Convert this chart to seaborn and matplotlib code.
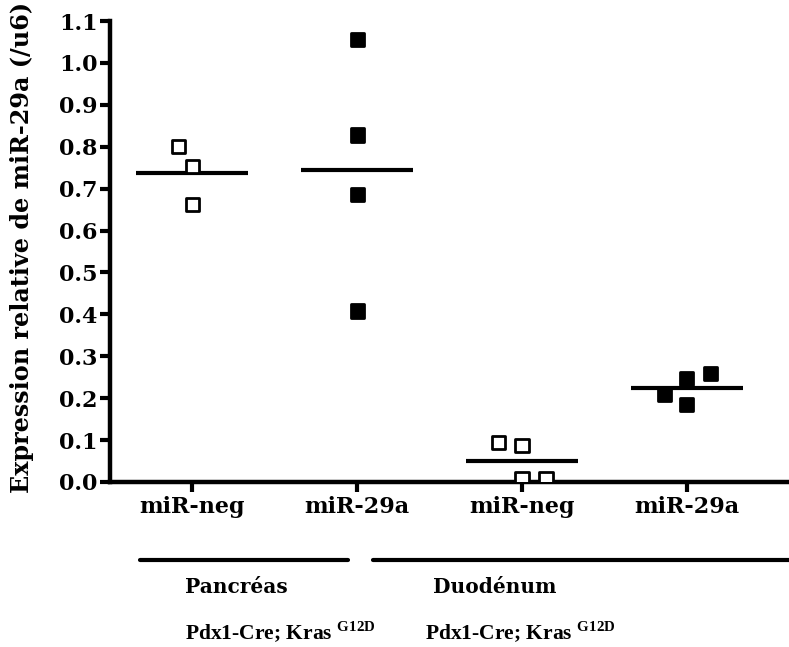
import matplotlib
matplotlib.use("Agg")
import matplotlib.pyplot as plt
from matplotlib.lines import Line2D
import seaborn as sns
import pandas as pd

# miR-29a expression relative to u6, per mouse
groups = ["panc_neg", "panc_29a", "duo_neg", "duo_29a"]
probe_labels = ["miR-neg", "miR-29a", "miR-neg", "miR-29a"]
panc_neg = [0.800, 0.752, 0.663]
panc_29a = [1.056, 0.828, 0.686, 0.408]
duo_neg = [0.095, 0.088, 0.008, 0.008]
duo_29a = [0.259, 0.247, 0.208, 0.184]
y_ticks = [0.0, 0.1, 0.2, 0.3, 0.4, 0.5, 0.6, 0.7, 0.8, 0.9, 1.0, 1.1]

values = [panc_neg, panc_29a, duo_neg, duo_29a]
df = pd.DataFrame(
    [(g, p, v) for g, p, vals in zip(groups, probe_labels, values) for v in vals],
    columns=["group", "probe", "value"],
)

sns.set_style("ticks")
plt.rcParams["font.family"] = "DejaVu Serif"
plt.rcParams["font.weight"] = "bold"
plt.rcParams["axes.labelweight"] = "bold"
plt.rcParams["mathtext.fontset"] = "custom"
plt.rcParams["mathtext.rm"] = "Liberation Serif:bold"
for key in ["axes.edgecolor", "axes.labelcolor", "text.color", "xtick.color", "ytick.color"]:
    plt.rcParams[key] = "black"

fig = plt.figure(figsize=(7.89, 6.47), dpi=100)
ax = fig.add_axes([110 / 789, 165 / 647, 679 / 789, 461 / 647])

# swarm laid out with a wider spacing, then markers shrunk to their real size
sns.swarmplot(
    data=df,
    x="group",
    y="value",
    hue="probe",
    order=groups,
    palette={"miR-neg": "white", "miR-29a": "black"},
    marker="s",
    size=15,
    edgecolor="black",
    linewidth=2,
    legend=False,
    ax=ax,
)
fig.canvas.draw()
for pts in ax.collections:
    pts.__dict__.pop("draw", None)
    pts.set_sizes([9.5**2])

# mean lines
means = df.groupby("group")["value"].mean().reindex(groups)
for i, m in enumerate(means):
    ax.hlines(m, i - 0.34, i + 0.34, color="black", lw=3)

ax.set_xlim(-0.5, 3.62)
ax.set_ylim(0, 1.1)
ax.set_yticks(y_ticks)
ax.set_yticklabels([f"{t:.1f}" for t in y_ticks])
ax.set_xticks(range(len(groups)))
ax.set_xticklabels(probe_labels)
ax.set_xlabel("")
ax.set_ylabel("Expression relative de miR-29a (/u6)", fontsize=17.2)
ax.yaxis.set_label_coords(-0.112, 0.508)
ax.tick_params(axis="y", labelsize=16, length=7, width=3, pad=2)
ax.tick_params(axis="x", labelsize=16, length=7, width=3, pad=3)
sns.despine(ax=ax)
for side in ["left", "bottom"]:
    ax.spines[side].set_linewidth(3.2)

# tissue brackets under the axis
fig.add_artist(Line2D([140 / 789, 348 / 789], [1 - 560 / 647] * 2, color="black", lw=3))
fig.add_artist(Line2D([373 / 789, 1.0], [1 - 560 / 647] * 2, color="black", lw=3))
fig.text(185 / 789, 1 - 593 / 647, "Pancréas", fontsize=14.5, va="baseline")
fig.text(433 / 789, 1 - 593 / 647, "Duodénum", fontsize=14.5, va="baseline")
mouse = r"Pdx1-Cre; Kras $^{\mathrm{G12D}}$"
fig.text(185 / 789, 1 - 640 / 647, mouse, family="Liberation Serif", fontsize=15.5, va="baseline")
fig.text(425 / 789, 1 - 640 / 647, mouse, family="Liberation Serif", fontsize=15.5, va="baseline")

fig.savefig("out.png", dpi=100)
